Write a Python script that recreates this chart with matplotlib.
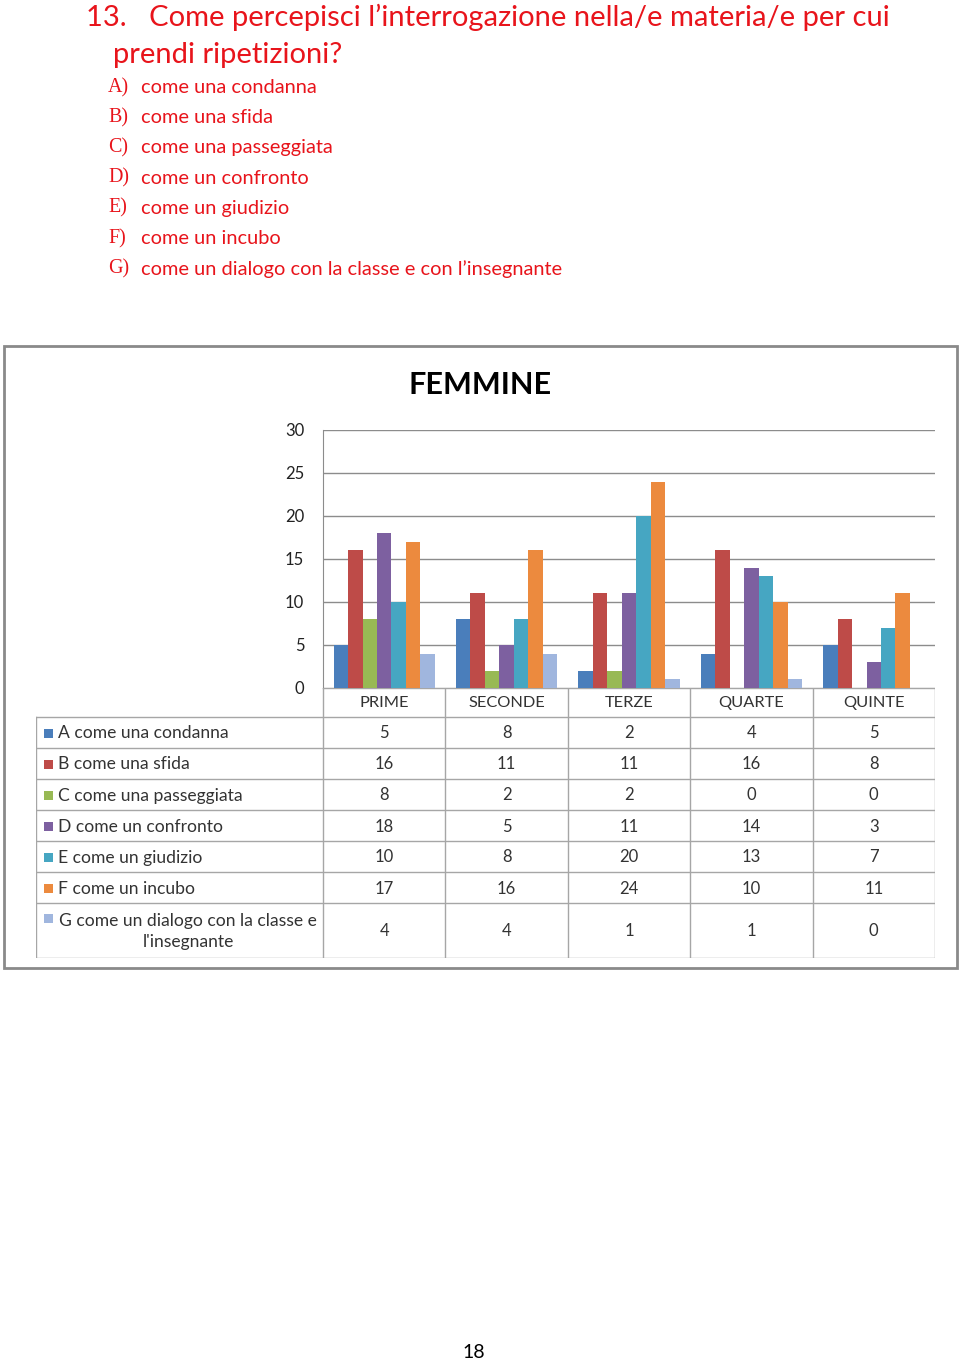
import matplotlib
matplotlib.use("Agg")
import matplotlib.pyplot as plt
from matplotlib.patches import Rectangle
import numpy as np

# ---------------- data ----------------
categories = ["PRIME", "SECONDE", "TERZE", "QUARTE", "QUINTE"]
series_labels = [
    "A come una condanna",
    "B come una sfida",
    "C come una passeggiata",
    "D come un confronto",
    "E come un giudizio",
    "F come un incubo",
    "G come un dialogo con la classe e\nl'insegnante",
]
A = [5, 8, 2, 4, 5]
B = [16, 11, 11, 16, 8]
C = [8, 2, 2, 0, 0]
D = [18, 5, 11, 14, 3]
E = [10, 8, 20, 13, 7]
F = [17, 16, 24, 10, 11]
G = [4, 4, 1, 1, 0]
series_values = [A, B, C, D, E, F, G]
colors = ["#4A7EBB", "#BE4B48", "#98B954", "#7D60A0", "#46A6C2", "#EC8A3E", "#A0B6DE"]
yticks = [0, 5, 10, 15, 20, 25, 30]

question = "13.   Come percepisci l\u2019interrogazione nella/e materia/e per cui"
question2 = "prendi ripetizioni?"
letters = ["A)", "B)", "C)", "D)", "E)", "F)", "G)"]
options = ["come una condanna", "come una sfida", "come una passeggiata",
           "come un confronto", "come un giudizio", "come un incubo",
           "come un dialogo con la classe e con l\u2019insegnante"]
chart_title = "FEMMINE"
page_number = "18"

# ---------------- layout ----------------
W, H = 960, 1363
fig = plt.figure(figsize=(W / 100, H / 100), dpi=100)
FONT = "Lato"
RED = "#E8141B"
GRID = "#8C8C8C"

def fx(px):
    return px / W

def fy(py):
    return 1 - py / H

def axes_px(left, top, right, bottom):
    return fig.add_axes([fx(left), fy(bottom), (right - left) / W, (bottom - top) / H])

# header text
fig.text(fx(86), fy(17), question, color=RED, fontsize=21, family=FONT, va="center", ha="left")
fig.text(fx(113), fy(55), question2, color=RED, fontsize=21, family=FONT, va="center", ha="left")
for i, (l, o) in enumerate(zip(letters, options)):
    y = 87.5 + i * 30.2
    fig.text(fx(108), fy(y), l, color=RED, fontsize=14.4, family="Liberation Serif", va="center", ha="left")
    fig.text(fx(141), fy(y), o, color=RED, fontsize=14.4, family=FONT, va="center", ha="left")

# outer chart frame
frame = Rectangle((fx(4), fy(968)), (957 - 4) / W, (968 - 346) / H, transform=fig.transFigure,
                  fill=False, edgecolor="#8A8A8A", linewidth=2)
fig.patches.append(frame)

fig.text(fx(480), fy(385), chart_title, fontsize=22, family=FONT, weight="bold",
         ha="center", va="center", color="black")

# ---------------- bar chart ----------------
ax = axes_px(323, 430, 935, 688)
n_series = len(series_values)
x = np.arange(len(categories))
bw = 0.118
for i, (vals, c) in enumerate(zip(series_values, colors)):
    off = (i - (n_series - 1) / 2) * bw
    ax.bar(x + off, vals, width=bw, color=c, edgecolor="none", zorder=3)
ax.set_xlim(-0.5, len(categories) - 0.5)
ax.set_ylim(0, 30)
ax.set_yticks(yticks)
ax.set_yticklabels([str(t) for t in yticks], fontsize=12, family=FONT, color="#222222")
ax.tick_params(axis="y", length=0, pad=13.5)
ax.set_xticks([])
for yt in yticks:
    ax.axhline(yt, color=GRID, linewidth=1, zorder=1)
for s in ["top", "right", "bottom"]:
    ax.spines[s].set_visible(False)
ax.spines["left"].set_color(GRID)
ax.patch.set_alpha(0)

# ---------------- data table ----------------
cat_px = (935 - 323) / len(categories)
left_units = (323 - 36) / cat_px
tax = axes_px(36, 688, 935, 958)
tax.set_xlim(-0.5 - left_units, len(categories) - 0.5)
row_edges = [688, 717, 748, 779, 810, 841, 872, 903, 958]
tax.set_ylim(958, 688)
tax.axis("off")
x0 = -0.5 - left_units
x_end = len(categories) - 0.5
TC = "#333333"
LC = "#A6A6A6"
for k, ye in enumerate(row_edges):
    if k == 0:
        tax.plot([-0.5, x_end], [ye, ye], color=LC, lw=1)
    else:
        tax.plot([x0, x_end], [ye, ye], color=LC, lw=1)
for j in range(len(categories) + 1):
    xv = j - 0.5
    tax.plot([xv, xv], [row_edges[0], row_edges[-1]], color=LC, lw=1)
tax.plot([x0, x0], [row_edges[1], row_edges[-1]], color=LC, lw=1)
for j, cat in enumerate(categories):
    tax.text(j, (row_edges[0] + row_edges[1]) / 2 + 1, cat, ha="center", va="center",
             fontsize=11.8, family=FONT, color=TC)
key_px = 9

def px2u(p):
    return p / cat_px

LAB_FS = 12.6
for i, (lab, vals, c) in enumerate(zip(series_labels, series_values, colors)):
    yc = (row_edges[i + 1] + row_edges[i + 2]) / 2
    if "\n" in lab:
        first_y = yc - 12
        tax.add_patch(Rectangle((x0 + px2u(8), first_y - key_px / 2), px2u(key_px), key_px,
                                color=c, lw=0))
        tax.text(x0 + px2u(152), yc + 1, lab, ha="center", va="center", multialignment="center",
                 fontsize=LAB_FS, family=FONT, color=TC, linespacing=1.4)
    else:
        tax.add_patch(Rectangle((x0 + px2u(8), yc - key_px / 2 + 1), px2u(key_px), key_px,
                                color=c, lw=0))
        tax.text(x0 + px2u(22), yc + 1, lab, ha="left", va="center",
                 fontsize=LAB_FS, family=FONT, color=TC)
    for j, v in enumerate(vals):
        tax.text(j, yc + 1, str(v), ha="center", va="center", fontsize=12, family=FONT, color=TC)

fig.text(fx(474), fy(1352), page_number, fontsize=14, family=FONT, ha="center", va="center", color="black")

fig.savefig("out.png", dpi=100)
